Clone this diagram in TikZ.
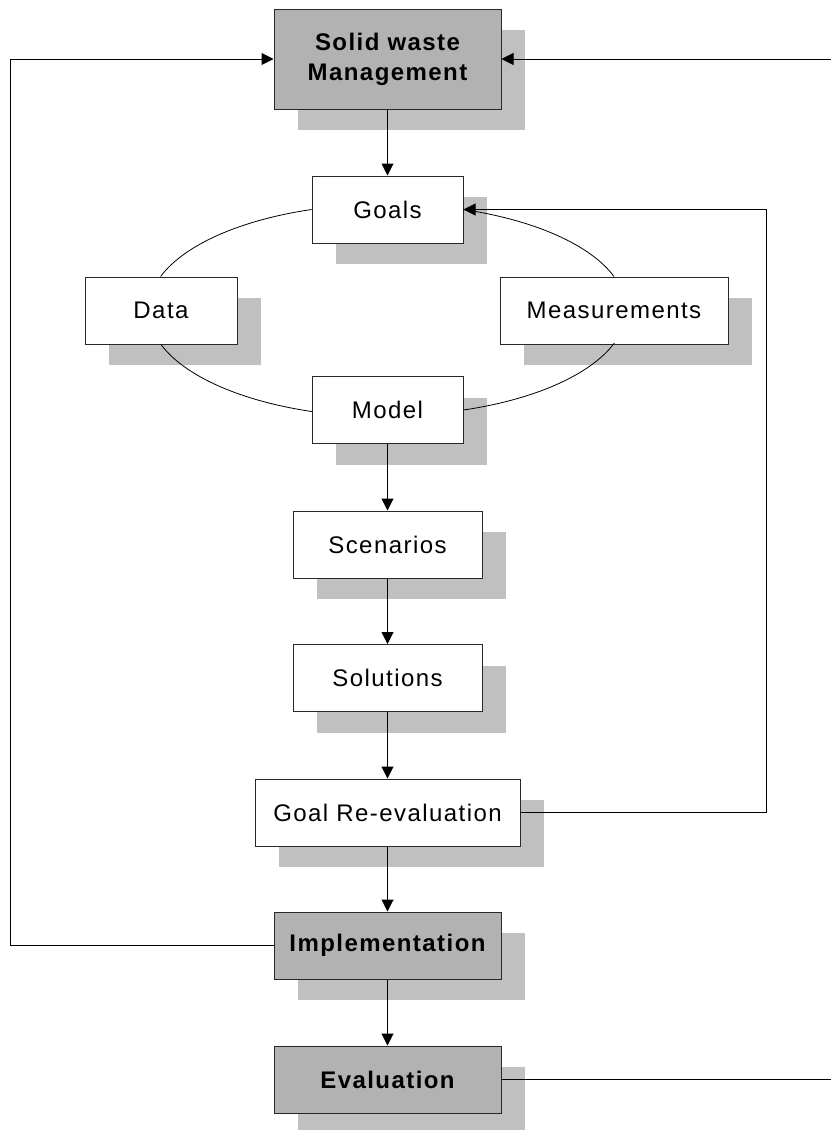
\documentclass[tikz,border=0pt]{standalone}
\usepackage{fontspec}
\setmainfont{Liberation Sans}[LetterSpace=6]
\usetikzlibrary{arrows.meta,shadows}
\definecolor{boxgray}{RGB}{178,178,178}
\definecolor{shadowgray}{RGB}{192,192,192}
\definecolor{edgegray}{RGB}{40,40,40}
\begin{document}
\begin{tikzpicture}[x=1pt,y=-1pt,
  box/.style={draw=edgegray, line width=1pt, fill=white, minimum width=#1,
    minimum height=67pt, inner sep=0pt, align=center,
    font=\fontsize{24}{30}\selectfont,
    drop shadow={shadow xshift=24pt, shadow yshift=-21pt, fill=shadowgray, opacity=1, draw=none}},
  graybox/.style={box=#1, fill=boxgray, font=\fontsize{24}{30}\selectfont\bfseries},
  arr/.style={line width=1pt, draw=black, -{Triangle[length=12pt,width=12pt]}},
  ln/.style={line width=1pt, draw=black},
  ell/.style={line width=0.8pt, draw=black},
]
\useasboundingbox (0,0) rectangle (831,1130);

\node[graybox=227pt, minimum height=100pt] (swm) at (387.5,59) {Solid waste\\Management};
\node[box=151pt] (goals) at (387.5,209.5) {Goals};
\node[box=152pt] (data) at (161,310.5) {Data};
\node[box=228pt] (meas) at (614,310.5) {Measurements};
\node[box=151pt] (model) at (387.5,410) {Model};
\node[box=189pt] (scen) at (387.5,544.5) {Scenarios};
\node[box=189pt] (sol) at (387.5,678) {Solutions};
\node[box=265pt] (goalre) at (387.5,812.5) {Goal Re-evaluation};
\node[graybox=227pt] (impl) at (387.5,945.5) {Implementation};
\node[graybox=227pt] (eval) at (387.5,1079.5) {Evaluation};

\coordinate (lc) at (10,0);
\coordinate (rc) at (766,0);
\coordinate (edgeR) at (831,0);

% ellipse arcs
\draw[ell] (goals.west) arc[start angle=108.5, end angle=161.8, x radius=238.5pt, y radius=105.4pt];
\draw[ell] (data.south) arc[start angle=198.2, end angle=251.5, x radius=238.5pt, y radius=105.4pt];
\draw[ell] (model.east) arc[start angle=288.5, end angle=341.8, x radius=238.5pt, y radius=105.4pt];
\draw[ell] (meas.north) arc[start angle=18.2, end angle=71.5, x radius=238.5pt, y radius=105.4pt];

% main flow
\draw[arr] (swm.south) -- (goals.north);
\draw[arr] (model.south) -- (scen.north);
\draw[arr] (scen.south) -- (sol.north);
\draw[arr] (sol.south) -- (goalre.north);
\draw[arr] (goalre.south) -- (impl.north);
\draw[arr] (impl.south) -- (eval.north);

% feedback loops
\draw[arr] (impl.west) -- (impl.west -| lc) |- (swm.west);
\draw[arr] (goalre.east) -- (goalre.east -| rc) |- (goals.east);
\draw[arr] (swm.east -| edgeR) -- (swm.east);
\draw[ln] (eval.east) -- (eval.east -| edgeR);
\end{tikzpicture}
\end{document}
